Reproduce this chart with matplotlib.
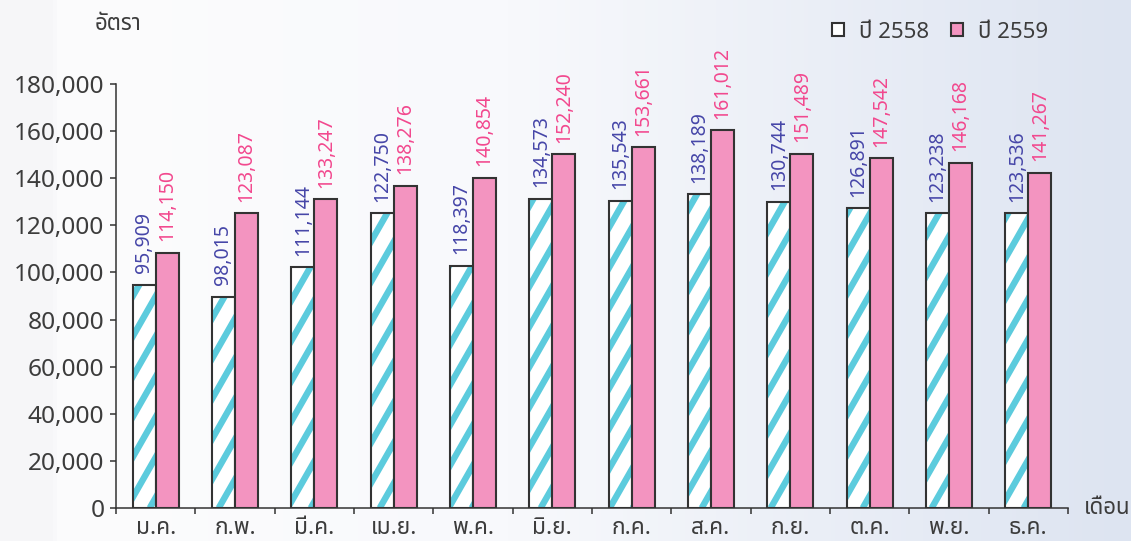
import numpy as np
import matplotlib
matplotlib.use("Agg")
import matplotlib.pyplot as plt
from matplotlib import font_manager
from matplotlib.ft2font import FT2Font
from matplotlib.patches import Patch
from matplotlib.collections import LineCollection
from matplotlib.colors import LinearSegmentedColormap

# ---- data ----
months = ['ม.ค.', 'ก.พ.', 'มี.ค.', 'เม.ย.', 'พ.ค.', 'มิ.ย.',
          'ก.ค.', 'ส.ค.', 'ก.ย.', 'ต.ค.', 'พ.ย.', 'ธ.ค.']
# bar heights as drawn
bars_2558 = [94700, 89600, 102200, 125100, 102800, 131300,
             130400, 133100, 130000, 127200, 125100, 125100]
bars_2559 = [108400, 125100, 131000, 136700, 140100, 150100,
             153100, 160400, 150300, 148400, 146600, 142300]
# values printed above the bars
labels_2558 = [95909, 98015, 111144, 122750, 118397, 134573,
               135543, 138189, 130744, 126891, 123238, 123536]
labels_2559 = [114150, 123087, 133247, 138276, 140854, 152240,
               153661, 161012, 151489, 147542, 146168, 141267]
series_names = ['ปี 2558', 'ปี 2559']
y_ticks = [0, 20000, 40000, 60000, 80000, 100000, 120000, 140000, 160000, 180000]


def find_thai_font():
	# look for an installed family that has Thai glyphs
	prefer = ['Noto Sans Thai', 'Noto Sans Thai UI', 'Loma', 'Garuda', 'Sarabun',
	          'Waree', 'Umpush', 'Kinnari', 'Norasi', 'Tlwg Typo']
	found = []
	for entry in font_manager.fontManager.ttflist:
		try:
			if 0x0E2D in FT2Font(entry.fname).get_charmap():
				found.append(entry.name)
		except Exception:
			pass
	for name in prefer:
		if name in found:
			return name
	return found[0] if found else None


thai = find_thai_font()
families = ([thai] if thai else []) + ['DejaVu Sans']
plt.rcParams['font.family'] = families

DPI = 200
W, H = 1131, 541
fig = plt.figure(figsize=(W / DPI, H / DPI), dpi=DPI)

# background gradient
bg = fig.add_axes([0, 0, 1, 1], zorder=-10)
bg_cmap = LinearSegmentedColormap.from_list(
	'bg', [(0, '#f6f6f8'), (0.045, '#f6f6f8'), (0.05, '#fcfcfd'),
	       (0.45, '#f8f9fc'), (1, '#dde4f1')])
bg.imshow(np.linspace(0, 1, 256).reshape(1, -1), aspect='auto', cmap=bg_cmap,
          extent=[0, 1, 0, 1])
bg.axis('off')

ax_l, ax_r, ax_t, ax_b = 116, 1068, 84, 508
ax = fig.add_axes([ax_l / W, 1 - ax_b / H, (ax_r - ax_l) / W, (ax_b - ax_t) / H])
ax.set_facecolor('none')

x = np.arange(len(months))
w = 0.29
text_col = '#3c3c3c'
edge_col = '#333333'
stripe_col = '#5ccbdd'

# 2558: white bars with steep cyan stripes clipped to each bar
bars_a = ax.bar(x - w / 2, bars_2558, w, color='white', linewidth=0, zorder=2)
ax_w, ax_h = ax_r - ax_l, ax_b - ax_t
run = ax_h / 1.75          # horizontal run of a stripe over the full axes height (px)
step = 23.0                # horizontal spacing of stripes (px)
offsets = np.arange(-run, ax_w + step, step)
segs = [[(o / ax_w, 0), ((o + run) / ax_w, 1)] for o in offsets]
for bar in bars_a:
	lc = LineCollection(segs, colors=stripe_col, linewidths=2.3,
	                    transform=ax.transAxes, zorder=2.5)
	ax.add_collection(lc)
	lc.set_clip_path(bar)
ax.bar(x - w / 2, bars_2558, w, fill=False, edgecolor=edge_col, linewidth=0.75, zorder=3)
# 2559: pink bars
ax.bar(x + w / 2, bars_2559, w, color='#f394c0', edgecolor=edge_col, linewidth=0.75,
       zorder=3)

for i in range(len(months)):
	ax.annotate('{:,}'.format(labels_2558[i]), (x[i] - w / 2, bars_2558[i]),
	            xytext=(0, 4.2), textcoords='offset points', rotation=90,
	            ha='center', va='bottom', fontsize=7.0, color='#4646a8')
	ax.annotate('{:,}'.format(labels_2559[i]), (x[i] + w / 2, bars_2559[i]),
	            xytext=(0, 4.2), textcoords='offset points', rotation=90,
	            ha='center', va='bottom', fontsize=7.0, color='#f2488e')

ax.set_xlim(-0.5, len(months) - 0.5)
ax.set_ylim(0, 180000)
ax.set_yticks(y_ticks)
ax.set_yticklabels(['{:,}'.format(v) for v in y_ticks])
ax.set_xticks(x)
ax.set_xticklabels(months)
ax.set_xticks(np.arange(len(months) + 1) - 0.5, minor=True)
ax.tick_params(axis='x', which='major', length=0, pad=3, labelsize=8.2, labelcolor=text_col)
ax.tick_params(axis='x', which='minor', length=2.2, width=0.55, color=edge_col)
ax.tick_params(axis='y', length=2.2, width=0.55, color=edge_col, pad=2,
               labelsize=8.8, labelcolor=text_col)

for side in ['top', 'right']:
	ax.spines[side].set_visible(False)
for side in ['left', 'bottom']:
	ax.spines[side].set_linewidth(0.55)
	ax.spines[side].set_color(edge_col)

fig.text(118 / W, 1 - 25 / H, 'อัตรา', ha='center', va='center',
         fontsize=8.0, color=text_col)
fig.text(1084 / W, 1 - 508 / H, 'เดือน', ha='left', va='center',
         fontsize=8.0, color=text_col)

handles = [Patch(facecolor='white', edgecolor=edge_col, linewidth=0.75),
           Patch(facecolor='#f394c0', edgecolor=edge_col, linewidth=0.75)]
fig.legend(handles, series_names, loc='center right', bbox_to_anchor=(1048 / W, 1 - 32 / H),
           ncol=2, frameon=False, fontsize=8.0, handlelength=0.55, handleheight=0.55,
           handletextpad=0.65, columnspacing=1.0, borderpad=0, borderaxespad=0,
           labelcolor=text_col)

fig.savefig('out.png', dpi=DPI)
